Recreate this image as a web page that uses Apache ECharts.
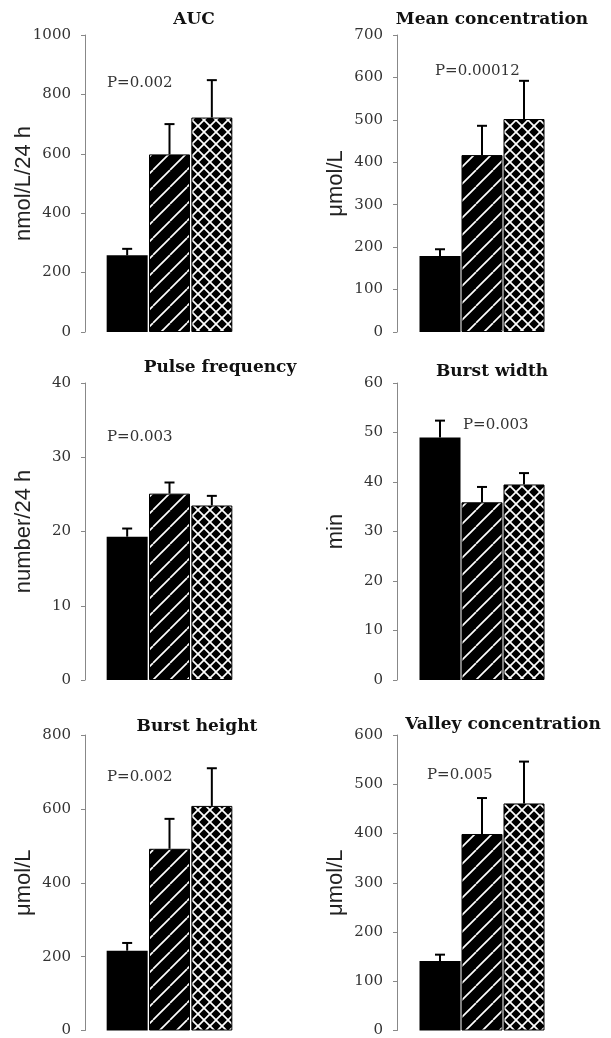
<!DOCTYPE html>
<html>
<head>
<meta charset="utf-8">
<script src="https://cdn.jsdelivr.net/npm/echarts@6/dist/echarts.min.js"></script>
<style>
  html, body { margin: 0; padding: 0; background: #fff; }
  #chart { width: 611px; height: 1038px; }
</style>
</head>
<body>
<div id="chart"></div>
<script>
// three groups, x axis not labelled in the figure
const groups = ["Group 1", "Group 2", "Group 3"]

const titles = ["AUC", "Mean concentration", "Pulse frequency", "Burst width", "Burst height", "Valley concentration"]
const yNames = ["nmol/L/24 h", "μmol/L", "number/24 h", "min", "μmol/L", "μmol/L"]
const yMax = [1000, 700, 40, 60, 800, 600]
const yStep = [200, 100, 10, 10, 200, 100]
const pTexts = ["P=0.002", "P=0.00012", "P=0.003", "P=0.003", "P=0.002", "P=0.005"]

// bar heights and tops of the error bars
const auc = [258, 598, 722]
const aucErr = [280, 700, 848]
const meanConc = [179, 417, 502]
const meanConcErr = [195, 486, 592]
const pulseFreq = [19.3, 25.1, 23.5]
const pulseFreqErr = [20.4, 26.6, 24.8]
const burstWidth = [49.0, 35.9, 39.5]
const burstWidthErr = [52.4, 39.0, 41.8]
const burstHeight = [216, 492, 608]
const burstHeightErr = [237, 573, 710]
const valley = [141, 399, 461]
const valleyErr = [154, 472, 546]

const values = [auc, meanConc, pulseFreq, burstWidth, burstHeight, valley]
const errTops = [aucErr, meanConcErr, pulseFreqErr, burstWidthErr, burstHeightErr, valleyErr]

// layout of the six panels
const grids = [
  { left: 106, top: 35, width: 127, height: 297, offset: 21 },
  { left: 419, top: 35, width: 126, height: 297, offset: 22 },
  { left: 106, top: 383, width: 127, height: 297, offset: 21 },
  { left: 419, top: 383, width: 126, height: 297, offset: 22 },
  { left: 106, top: 735, width: 127, height: 296, offset: 21 },
  { left: 419, top: 735, width: 126, height: 296, offset: 22 }
]
const titlePos = [[194, 20], [492, 20], [220, 368], [492, 372], [197, 727], [503, 725]]
const pPos = [[107, 83], [435, 71], [107, 437], [463, 425], [107, 777], [427, 775]]

function hatch(cross) {
  let s = cross ? 12 : 17
  let c = document.createElement("canvas")
  c.width = s
  c.height = s
  let ctx = c.getContext("2d")
  ctx.fillStyle = "#000"
  ctx.fillRect(0, 0, s, s)
  ctx.strokeStyle = "#fff"
  ctx.lineWidth = 1.7
  for (let k = -s; k <= s; k += s) {
    ctx.beginPath()
    ctx.moveTo(k, s)
    ctx.lineTo(k + s, 0)
    ctx.stroke()
    if (cross) {
      ctx.beginPath()
      ctx.moveTo(k, 0)
      ctx.lineTo(k + s, s)
      ctx.stroke()
    }
  }
  return c
}

const barStyles = [
  { color: "#000" },
  { color: { image: hatch(false), repeat: "repeat" }, borderColor: "#000", borderWidth: 1 },
  { color: { image: hatch(true), repeat: "repeat" }, borderColor: "#000", borderWidth: 1 }
]

const serif = "DejaVu Serif"

let myChart = echarts.init(document.getElementById("chart"))

let graphic = []
titles.forEach((t, i) => {
  graphic.push({
    type: "text",
    x: titlePos[i][0],
    y: titlePos[i][1],
    style: {
      text: t,
      font: "bold 17px '" + serif + "'",
      fill: "#111",
      textAlign: "center",
      textVerticalAlign: "middle",
      align: "center",
      verticalAlign: "middle"
    }
  })
  graphic.push({
    type: "text",
    x: pPos[i][0],
    y: pPos[i][1],
    style: {
      text: pTexts[i],
      font: "15px '" + serif + "'",
      fill: "#333",
      textVerticalAlign: "middle",
      verticalAlign: "middle"
    }
  })
})

let series = []
values.forEach((v, i) => {
  series.push({
    type: "bar",
    xAxisIndex: i,
    yAxisIndex: i,
    barWidth: 41,
    silent: true,
    data: v.map((val, j) => ({ value: val, itemStyle: barStyles[j] }))
  })
  series.push({
    type: "custom",
    xAxisIndex: i,
    yAxisIndex: i,
    silent: true,
    z: 5,
    data: v.map((val, j) => [j, val, errTops[i][j]]),
    renderItem: function (params, api) {
      let base = api.coord([api.value(0), api.value(1)])
      let top = api.coord([api.value(0), api.value(2)])
      let style = { stroke: "#000", lineWidth: 2 }
      return {
        type: "group",
        children: [
          { type: "line", shape: { x1: base[0], y1: base[1], x2: top[0], y2: top[1] }, style: style },
          { type: "line", shape: { x1: top[0] - 5, y1: top[1], x2: top[0] + 5, y2: top[1] }, style: style }
        ]
      }
    }
  })
})

myChart.setOption({
  animation: false,
  grid: grids.map(g => ({ left: g.left, top: g.top, width: g.width, height: g.height })),
  xAxis: grids.map((g, i) => ({
    type: "category",
    gridIndex: i,
    data: groups,
    axisLine: { show: false },
    axisTick: { show: false },
    axisLabel: { show: false }
  })),
  yAxis: grids.map((g, i) => ({
    type: "value",
    gridIndex: i,
    min: 0,
    max: yMax[i],
    interval: yStep[i],
    offset: g.offset,
    name: yNames[i],
    nameLocation: "middle",
    nameRotate: 90,
    nameGap: 50,
    nameMoveOverlap: false,
    nameTextStyle: { fontFamily: "Liberation Sans", fontSize: 22, color: "#222" },
    splitLine: { show: false },
    axisLine: { show: true, lineStyle: { color: "#888", width: 1 } },
    axisTick: { show: true, length: 4, lineStyle: { color: "#888" } },
    axisLabel: { fontFamily: serif, fontSize: 15, color: "#333", margin: 14, formatter: v => String(v) }
  })),
  graphic: graphic,
  series: series
})
</script>
</body>
</html>
